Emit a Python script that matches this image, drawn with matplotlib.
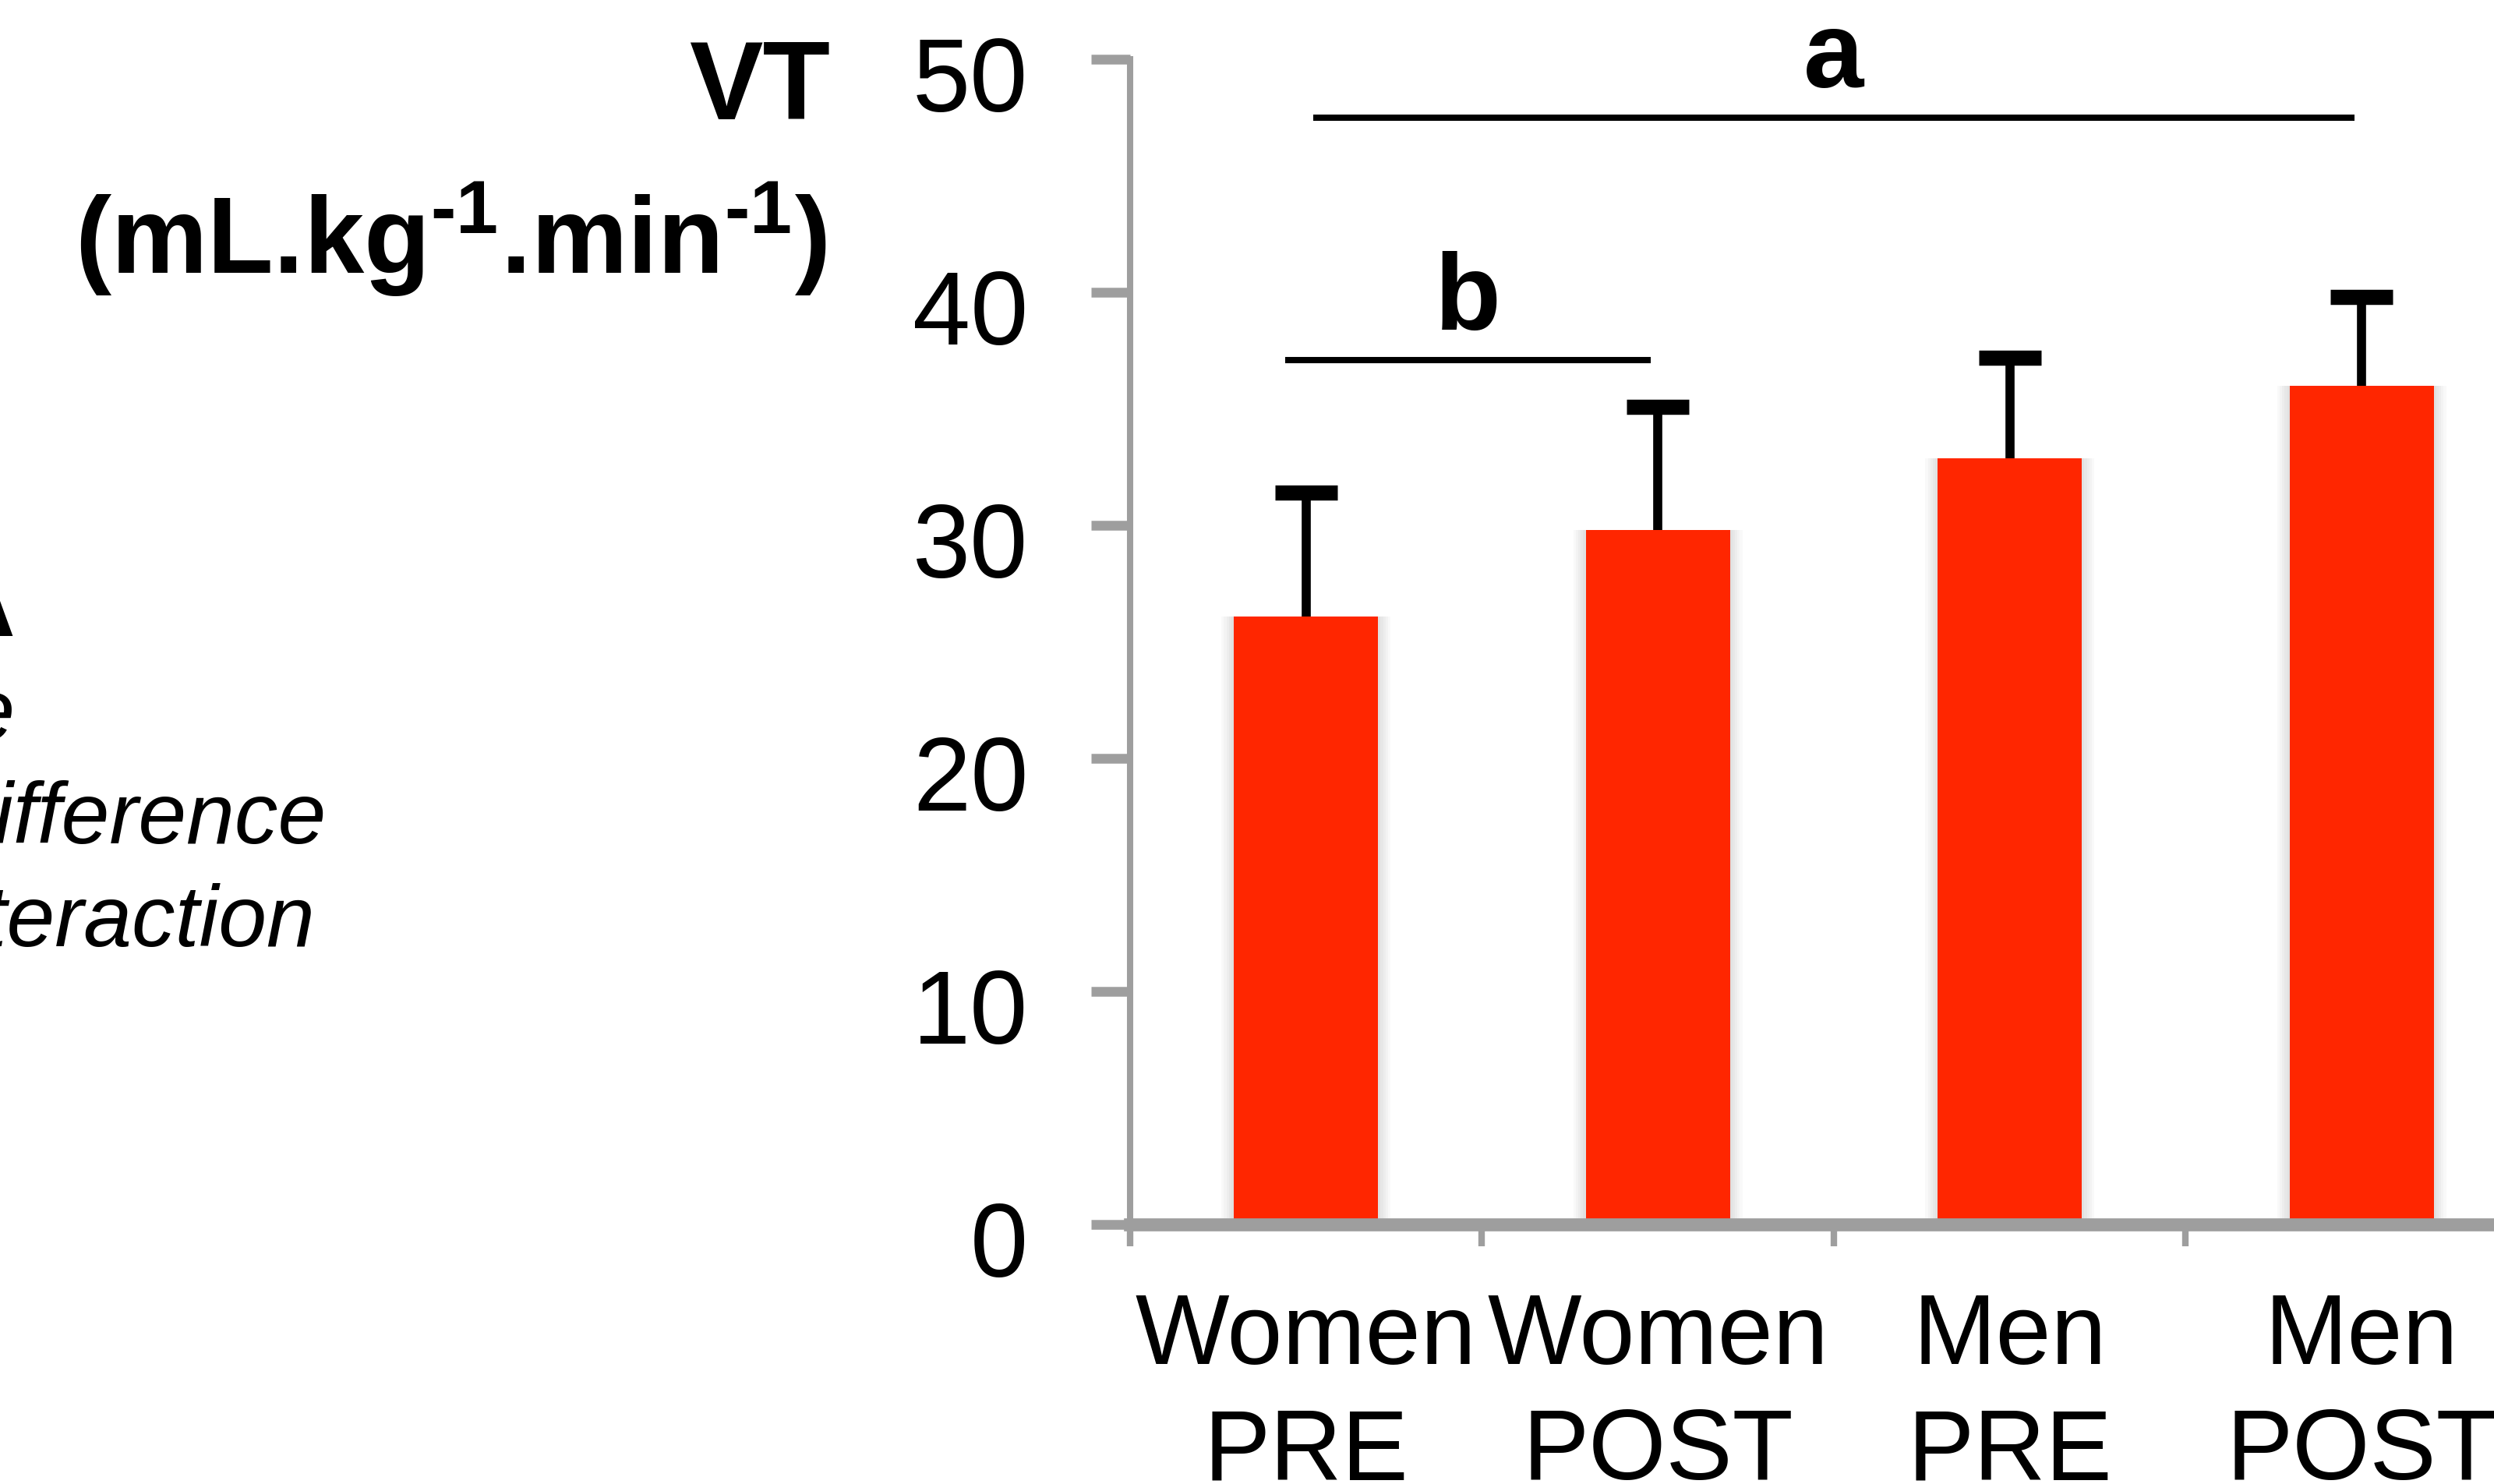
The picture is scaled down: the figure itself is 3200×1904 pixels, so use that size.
import numpy as np
import matplotlib
matplotlib.use("Agg")
import matplotlib.pyplot as plt
from matplotlib.transforms import ScaledTranslation

plt.rcParams['font.family'] = ['Liberation Sans', 'DejaVu Sans']
plt.rcParams['mathtext.fontset'] = 'custom'
plt.rcParams['mathtext.rm'] = 'Liberation Sans'
plt.rcParams['mathtext.bf'] = 'Liberation Sans:bold'
plt.rcParams['mathtext.default'] = 'bf'

# data
groups = ["Women\nPRE", "Women\nPOST", "Men\nPRE", "Men\nPOST"]
vt_mean = [26.1, 29.8, 32.9, 36.0]
vt_sd = [5.3, 5.3, 4.3, 3.8]
y_ticks = [0, 10, 20, 30, 40, 50]

# significance bars: start group, end group, level, letter
sig_a = (0.03, 2.97, 47.5, "a")
sig_b = (-0.05, 0.97, 37.1, "b")

anova_lines = ["ANOVA", "Time", "Gender difference", "Interaction"]

red = '#FF2600'
gray = '#9E9E9E'

fig = plt.figure(figsize=(16, 9.52), dpi=200)
ax = fig.add_axes([0.4531, 0.1749, 0.5644, 0.7850])

x = np.arange(len(groups))
w = 0.41

# soft shadow round the bars
for k in range(1, 6):
    ax.bar(x, vt_mean, width=w + 0.014 * k, color='black', alpha=0.022, zorder=1, linewidth=0)
ax.bar(x, vt_mean, width=w, color=red, zorder=2, linewidth=0)
eb = ax.errorbar(x, vt_mean, yerr=[np.zeros(len(vt_sd)), vt_sd], fmt='none', ecolor='black',
                 elinewidth=4.2, capsize=14.5, capthick=7, zorder=1.5)
# only the upper caps are drawn in the original
eb[1][0].set_visible(False)

ax.set_xlim(-0.5, len(groups) - 0.5)
ax.set_ylim(0, 50)

for s in ['top', 'right']:
    ax.spines[s].set_visible(False)
ax.spines['left'].set_color(gray)
ax.spines['left'].set_linewidth(2.9)
ax.spines['bottom'].set_color(gray)
ax.spines['bottom'].set_linewidth(6)

ax.set_yticks(y_ticks)
ax.tick_params(axis='y', direction='out', length=18, width=4.5, color=gray,
               labelsize=48, pad=29, labelcolor='black')
for lbl in ax.get_yticklabels():
    lbl.set_transform(lbl.get_transform() + ScaledTranslation(0, -6.5 / 72, fig.dpi_scale_trans))

ax.set_xticks(np.arange(len(groups) + 1) - 0.5)
ax.set_xticklabels([])
ax.tick_params(axis='x', which='major', direction='out', length=10, width=3, color=gray)
ax.set_xticks(x, minor=True)
ax.set_xticklabels(groups, minor=True, fontsize=46, linespacing=1.3)
ax.tick_params(axis='x', which='minor', length=0, pad=31)

for x0, x1, lvl, letter in [sig_a, sig_b]:
    ax.plot([x0, x1], [lvl, lvl], color='black', lw=2.9, clip_on=False, zorder=3)
    ax.text((x0 + x1) / 2, lvl + 2.5, letter, ha='center', va='center',
            fontsize=50, fontweight='bold', clip_on=False)

fig.text(0.3328, 0.939, "VT", ha='right', va='center', fontsize=51, fontweight='bold')
fig.text(0.3316, 0.839, "(mL.kg$^{\u20101}$.min$^{\u20101}$)", ha='right', va='center',
         fontsize=50, fontweight='bold')

fig.text(0.006, 0.5714, anova_lines[0], ha='right', va='baseline', fontsize=43, fontweight='bold')
fig.text(0.006, 0.5016, anova_lines[1], ha='right', va='baseline', fontsize=40, style='italic')
fig.text(0.1307, 0.4317, anova_lines[2], ha='right', va='baseline', fontsize=40, style='italic')
fig.text(0.1263, 0.3624, anova_lines[3], ha='right', va='baseline', fontsize=40, style='italic')

fig.savefig('out.png', dpi=200)
